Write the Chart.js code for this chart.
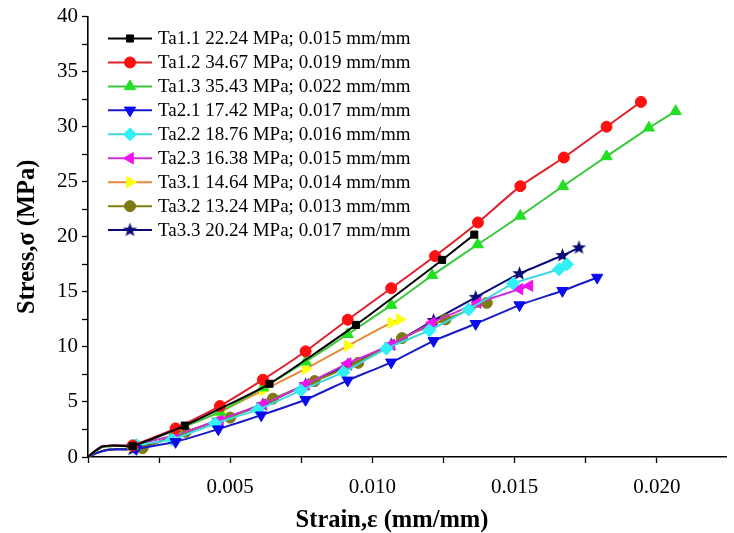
<!DOCTYPE html>
<html>
<head>
<meta charset="utf-8">
<script src="https://cdn.jsdelivr.net/npm/chart.js@4.4.1/dist/chart.umd.min.js"></script>
<style>
html,body{margin:0;padding:0;background:#fff;}
#wrap{width:734px;height:533px;position:relative;}
</style>
</head>
<body>
<div id="wrap"><canvas id="c" width="734" height="533"></canvas></div>
<script>
// ---- data (strain in mm/mm, stress in MPa) ----
const seriesLabels = [
  'Ta1.1 22.24 MPa; 0.015 mm/mm',
  'Ta1.2 34.67 MPa; 0.019 mm/mm',
  'Ta1.3 35.43 MPa; 0.022 mm/mm',
  'Ta2.1 17.42 MPa; 0.017 mm/mm',
  'Ta2.2 18.76 MPa; 0.016 mm/mm',
  'Ta2.3 16.38 MPa; 0.015 mm/mm',
  'Ta3.1 14.64 MPa; 0.014 mm/mm',
  'Ta3.2 13.24 MPa; 0.013 mm/mm',
  'Ta3.3 20.24 MPa; 0.017 mm/mm'
];
const strainTa11 = [0, 0.0002, 0.0005, 0.0009, 0.00157, 0.0034, 0.00638, 0.00942, 0.01245, 0.01358];
const stressTa11 = [0, 0.45, 0.95, 1.05, 1.0, 2.85, 6.65, 12.0, 17.9, 20.2];
const strainTa12 = [0, 0.0002, 0.0005, 0.0009, 0.00157, 0.00308, 0.00464, 0.00615, 0.00765, 0.00913, 0.01066, 0.0122, 0.01371, 0.0152, 0.01673, 0.01823, 0.01944];
const stressTa12 = [0, 0.45, 0.95, 1.05, 1.05, 2.6, 4.63, 7.02, 9.6, 12.47, 15.33, 18.25, 21.3, 24.6, 27.2, 30.0, 32.25];
const strainTa13 = [0, 0.0002, 0.0005, 0.0009, 0.00157, 0.00308, 0.00464, 0.00615, 0.00765, 0.00913, 0.01066, 0.0121, 0.0137, 0.0152, 0.0167, 0.01823, 0.01972, 0.02066];
const stressTa13 = [0, 0.4, 0.9, 1.0, 1.0, 2.45, 4.1, 6.3, 8.65, 11.15, 13.8, 16.5, 19.3, 21.9, 24.6, 27.3, 29.9, 31.4];
const strainTa21 = [0, 0.0003, 0.0007, 0.001, 0.0017, 0.00308, 0.00458, 0.00609, 0.00765, 0.00913, 0.01066, 0.01215, 0.01363, 0.01517, 0.01668, 0.0179];
const stressTa21 = [0, 0.35, 0.65, 0.7, 0.75, 1.38, 2.53, 3.8, 5.2, 6.96, 8.6, 10.55, 12.1, 13.8, 15.1, 16.3];
const strainTa22 = [0, 0.0002, 0.0005, 0.0009, 0.0017, 0.00295, 0.00447, 0.00597, 0.00748, 0.00898, 0.01049, 0.012, 0.01338, 0.01494, 0.01656, 0.01684];
const stressTa22 = [0, 0.4, 0.9, 1.0, 1.08, 1.6, 3.04, 4.3, 6.05, 7.7, 9.85, 11.5, 13.4, 15.75, 17.05, 17.5];
const strainTa23 = [0, 0.0002, 0.0005, 0.0009, 0.00157, 0.00308, 0.00464, 0.00615, 0.00765, 0.00913, 0.01066, 0.0121, 0.0137, 0.01517, 0.01552];
const stressTa23 = [0, 0.45, 0.95, 1.05, 1.08, 2.0, 3.4, 4.8, 6.6, 8.5, 10.2, 12.2, 14.0, 15.25, 15.55];
const strainTa31 = [0, 0.0002, 0.0005, 0.0009, 0.00157, 0.00308, 0.00464, 0.00615, 0.00765, 0.00913, 0.01066, 0.01095];
const stressTa31 = [0, 0.4, 0.9, 1.0, 1.0, 2.45, 4.1, 6.05, 8.0, 10.1, 12.2, 12.5];
const strainTa32 = [0, 0.0003, 0.0007, 0.001, 0.00192, 0.00343, 0.005, 0.0065, 0.00797, 0.0095, 0.01104, 0.01257, 0.01402];
const stressTa32 = [0, 0.35, 0.65, 0.7, 0.8, 2.29, 3.58, 5.3, 6.9, 8.55, 10.8, 12.5, 14.0];
const strainTa33 = [0, 0.0003, 0.0007, 0.001, 0.00157, 0.00308, 0.00458, 0.00615, 0.00765, 0.00913, 0.01066, 0.01215, 0.01363, 0.01517, 0.01668, 0.01726];
const stressTa33 = [0, 0.35, 0.65, 0.7, 0.7, 1.9, 3.34, 4.75, 6.57, 8.37, 10.2, 12.4, 14.5, 16.65, 18.3, 19.0];

const xMajorTicks = [0.005, 0.010, 0.015, 0.020];
const xTickLabels = ['0.005', '0.010', '0.015', '0.020'];
const yMajorTicks = [0, 5, 10, 15, 20, 25, 30, 35, 40];
const yTickLabels = ['0', '5', '10', '15', '20', '25', '30', '35', '40'];
const xAxisTitle = 'Strain,ε (mm/mm)';
const yAxisTitle = 'Stress,σ (MPa)';

// ---- styling ----
function starCanvas(color, r) {
  const s = Math.ceil(r * 2 + 2);
  const cv = document.createElement('canvas');
  cv.width = s; cv.height = s;
  const g = cv.getContext('2d');
  g.fillStyle = color;
  g.beginPath();
  for (let i = 0; i < 10; i++) {
    const rr = i % 2 === 0 ? r : r * 0.42;
    const a = -Math.PI / 2 + i * Math.PI / 5;
    const px = s / 2 + rr * Math.cos(a), py = s / 2 + rr * Math.sin(a);
    if (i === 0) g.moveTo(px, py); else g.lineTo(px, py);
  }
  g.closePath(); g.fill();
  return cv;
}
const star = starCanvas('#0a0a7a', 7.5);

const styles = [
  {line: '#000000', fill: '#000000', shape: 'rect', rot: 0, r: 5},
  {line: '#e0202a', fill: '#ff1010', shape: 'circle', rot: 0, r: 5.5},
  {line: '#3cc83c', fill: '#22e022', shape: 'triangle', rot: 0, r: 6.5},
  {line: '#1a1acc', fill: '#0a0af0', shape: 'triangle', rot: 180, r: 6.5},
  {line: '#3fd8e0', fill: '#30f0f5', shape: 'rectRot', rot: 0, r: 6.5},
  {line: '#d030d0', fill: '#f010f0', shape: 'triangle', rot: 270, r: 6.5},
  {line: '#e88a3a', fill: '#ffff10', shape: 'triangle', rot: 90, r: 6.5},
  {line: '#808010', fill: '#7d7a12', shape: 'circle', rot: 0, r: 5.5},
  {line: '#0a0a7a', fill: '#0a0a7a', shape: star, rot: 0, r: 7}
];
const strains = [strainTa11, strainTa12, strainTa13, strainTa21, strainTa22, strainTa23, strainTa31, strainTa32, strainTa33];
const stresses = [stressTa11, stressTa12, stressTa13, stressTa21, stressTa22, stressTa23, stressTa31, stressTa32, stressTa33];

const datasets = seriesLabels.map((lab, i) => ({
  label: lab,
  data: strains[i].map((x, k) => ({x: x, y: stresses[i][k]})),
  borderColor: styles[i].line,
  backgroundColor: styles[i].fill,
  pointBackgroundColor: styles[i].fill,
  pointBorderColor: styles[i].fill,
  pointBorderWidth: 1,
  pointStyle: styles[i].shape,
  pointRotation: styles[i].rot,
  pointRadius: ctx => (ctx.raw && ctx.raw.x < 0.0014) ? 0 : styles[i].r,
  pointHoverRadius: 0,
  borderWidth: 2,
  tension: 0.15,
  showLine: true,
  fill: false
}));
const serif = "'Liberation Serif','Times New Roman',serif";

const legendPlugin = {
  id: 'insideLegend',
  afterDatasetsDraw(chart) {
    const ctx = chart.ctx;
    ctx.save();
    const x0 = 108, x1 = 152, xm = 130, xt = 158, y0 = 38.5, dy = 23.95;
    chart.data.datasets.forEach((ds, i) => {
      const y = y0 + i * dy;
      ctx.strokeStyle = ds.borderColor;
      ctx.lineWidth = 2;
      ctx.beginPath(); ctx.moveTo(x0, y); ctx.lineTo(x1, y); ctx.stroke();
      ctx.fillStyle = ds.pointBackgroundColor;
      ctx.strokeStyle = ds.pointBorderColor;
      ctx.lineWidth = 1;
      Chart.helpers.drawPoint(ctx, {pointStyle: ds.pointStyle, rotation: ds.pointRotation, radius: styles[i].r, borderWidth: 1}, xm, y);
      ctx.fillStyle = '#000';
      ctx.font = "19px " + serif;
      ctx.textBaseline = 'middle';
      ctx.textAlign = 'left';
      ctx.fillText(ds.label, xt, y + 1);
    });
    // x axis title
    ctx.font = "bold 24.5px " + serif;
    ctx.textAlign = 'center';
    ctx.textBaseline = 'middle';
    ctx.fillText(xAxisTitle, 392, 521);
    ctx.restore();
  }
};

new Chart(document.getElementById('c'), {
  type: 'scatter',
  data: {datasets: datasets},
  plugins: [legendPlugin],
  options: {
    responsive: false,
    animation: false,
    events: [],
    layout: {padding: {top: 13, right: -5, left: 0, bottom: 0}},
    plugins: {legend: {display: false}, tooltip: {enabled: false}},
    scales: {
      x: {
        type: 'linear', position: 'bottom', min: 0, max: 0.02243,
        afterBuildTicks: s => { const t = []; for (let i = 0; i <= 8; i++) t.push({value: i * 0.0025}); s.ticks = t; },
        afterFit: s => { s.height = 76; s.paddingRight = 0; s.paddingLeft = 0; },
        border: {display: true, color: '#000', width: 1.6},
        grid: {display: true, drawOnChartArea: false, drawTicks: true, tickLength: 6, tickColor: '#000', tickWidth: 1.3},
        ticks: {
          autoSkip: false, maxRotation: 0, padding: 12, color: '#000',
          font: {family: serif, size: 21},
          callback: v => { const k = xMajorTicks.findIndex(m => Math.abs(m - v) < 1e-9); return k >= 0 ? xTickLabels[k] : ''; }
        },
        title: {display: false}
      },
      y: {
        type: 'linear', position: 'left', min: 0, max: 40,
        afterBuildTicks: s => { const t = []; for (let i = 0; i <= 16; i++) t.push({value: i * 2.5}); s.ticks = t; },
        afterFit: s => { s.width = 88; },
        border: {display: true, color: '#000', width: 1.6},
        grid: {display: true, drawOnChartArea: false, drawTicks: true, tickLength: 6, tickColor: '#000', tickWidth: 1.3},
        ticks: {
          autoSkip: false, padding: 4, color: '#000',
          font: {family: serif, size: 21},
          callback: v => { const k = yMajorTicks.findIndex(m => Math.abs(m - v) < 1e-9); return k >= 0 ? yTickLabels[k] : ''; }
        },
        title: {display: true, text: yAxisTitle, color: '#000', font: {family: serif, size: 24.5, weight: 'bold', lineHeight: 1}, padding: {top: 15, bottom: 0}}
      }
    }
  }
});
</script>
</body>
</html>
